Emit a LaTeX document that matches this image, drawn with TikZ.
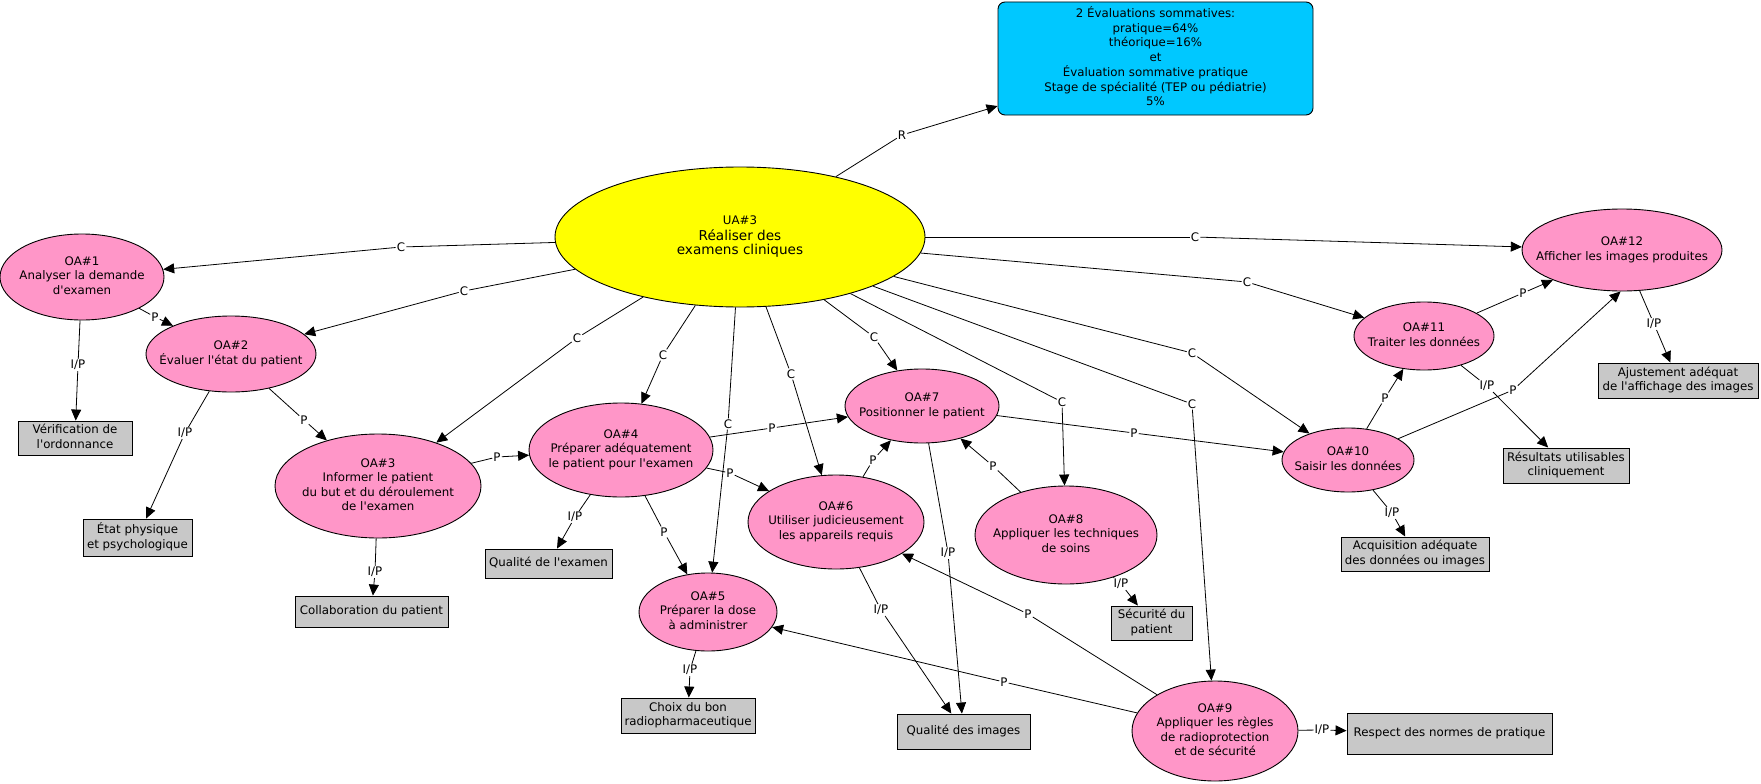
\documentclass[tikz,border=0pt]{standalone}
\usepackage{fontspec}
\setmainfont{DejaVu Sans}
\usetikzlibrary{shapes.geometric,arrows.meta}
\definecolor{oapink}{RGB}{255,150,200}
\definecolor{evalblue}{RGB}{0,200,255}
\definecolor{boxgray}{RGB}{200,200,200}
\definecolor{uayellow}{RGB}{255,255,0}
\newcommand\ctext[1]{\makebox[0pt]{\begin{tabular}{@{}c@{}}#1\end{tabular}}}
\newcommand\ap{\textquotesingle}
\begin{document}
\begin{tikzpicture}[x=1pt,y=-1pt,
  base/.style={font=\fontsize{11.8}{14.6}\selectfont, text=black},
  oa/.style={base, ellipse, draw=black, line width=0.9pt, fill=oapink, inner sep=0pt},
  res/.style={base, rectangle, draw=black, line width=0.9pt, fill=boxgray, inner sep=0pt},
  evalbox/.style={base, rectangle, rounded corners=7pt, draw=black, line width=0.9pt, fill=evalblue, inner sep=0pt},
  lbl/.style={base, fill=white, inner sep=1pt},
  conn/.style={line width=0.8pt, draw=black},
  arr/.style={conn, -{Triangle[length=11pt,width=10pt]}},
]
\fill[white] (0,0) rectangle (1761,784);
\useasboundingbox (0,0) rectangle (1761,784);

% central concept
\node[base, ellipse, draw=black, line width=0.9pt, fill=uayellow, inner sep=0pt,
      minimum width=370pt, minimum height=140pt] (ua) at (740,237)
  {\ctext{UA\#3\\{\fontsize{13.6}{17}\selectfont Réaliser des}\\{\fontsize{13.6}{17}\selectfont examens cliniques}}};

% evaluation box
\node[evalbox, minimum width=315pt, minimum height=113pt] (eval) at (1155.5,58.5)
  {\ctext{2 Évaluations sommatives:\\pratique=64\%\\théorique=16\%\\et\\Évaluation sommative pratique\\Stage de spécialité (TEP ou pédiatrie)\\5\%}};

% OA concepts
\node[oa, minimum width=164pt, minimum height=86pt] (oa1) at (82,277) {\ctext{OA\#1\\Analyser la demande\\d\ap examen}};
\node[oa, minimum width=170pt, minimum height=76pt] (oa2) at (231,354) {\ctext{OA\#2\\Évaluer l\ap état du patient}};
\node[oa, minimum width=206pt, minimum height=104pt] (oa3) at (378,486) {\ctext{OA\#3\\Informer le patient\\du but et du déroulement\\de l\ap examen}};
\node[oa, minimum width=184pt, minimum height=94pt] (oa4) at (621,450) {\ctext{OA\#4\\Préparer adéquatement\\le patient pour l\ap examen}};
\node[oa, minimum width=138pt, minimum height=78pt] (oa5) at (708,612) {\ctext{OA\#5\\Préparer la dose\\à administrer}};
\node[oa, minimum width=176pt, minimum height=94pt] (oa6) at (836,522) {\ctext{OA\#6\\Utiliser judicieusement\\les appareils requis}};
\node[oa, minimum width=154pt, minimum height=74pt] (oa7) at (922,406) {\ctext{OA\#7\\Positionner le patient}};
\node[oa, minimum width=182pt, minimum height=98pt] (oa8) at (1066,535) {\ctext{OA\#8\\Appliquer les techniques\\de soins}};
\node[oa, minimum width=166pt, minimum height=100pt] (oa9) at (1215,731) {\ctext{OA\#9\\Appliquer les règles\\de radioprotection\\et de sécurité}};
\node[oa, minimum width=132pt, minimum height=64pt] (oa10) at (1348,460) {\ctext{OA\#10\\Saisir les données}};
\node[oa, minimum width=140pt, minimum height=68pt] (oa11) at (1424,336) {\ctext{OA\#11\\Traiter les données}};
\node[oa, minimum width=200pt, minimum height=82pt] (oa12) at (1622,250) {\ctext{OA\#12\\Afficher les images produites}};

% result boxes
\node[res, minimum width=114pt, minimum height=34pt] (verif) at (75,438) {\ctext{Vérification de\\l\ap ordonnance}};
\node[res, minimum width=109pt, minimum height=37pt] (etat) at (137.5,537.5) {\ctext{État physique\\et psychologique}};
\node[res, minimum width=153pt, minimum height=31pt] (collab) at (371.5,611.5) {\ctext{Collaboration du patient}};
\node[res, minimum width=127pt, minimum height=29pt] (qexam) at (548.5,563.5) {\ctext{Qualité de l\ap examen}};
\node[res, minimum width=134pt, minimum height=35pt] (choix) at (688,715.5) {\ctext{Choix du bon\\radiopharmaceutique}};
\node[res, minimum width=133pt, minimum height=35pt] (qimg) at (963.5,731.5) {\ctext{Qualité des images}};
\node[res, minimum width=81pt, minimum height=34pt] (secur) at (1151.5,623) {\ctext{Sécurité du\\patient}};
\node[res, minimum width=205pt, minimum height=41pt] (respect) at (1449.5,733.5) {\ctext{Respect des normes de pratique}};
\node[res, minimum width=148pt, minimum height=34pt] (acq) at (1415,554) {\ctext{Acquisition adéquate\\des données ou images}};
\node[res, minimum width=126pt, minimum height=35pt] (result) at (1566,465.5) {\ctext{Résultats utilisables\\cliniquement}};
\node[res, minimum width=160pt, minimum height=35pt] (ajust) at (1678,380.5) {\ctext{Ajustement adéquat\\de l\ap affichage des images}};

% link labels from the central concept
\node[lbl] (lR) at (902,135) {R};
\node[lbl] (lc1) at (401,247) {C};
\node[lbl] (lc2) at (464,291) {C};
\node[lbl] (lc3) at (577,338) {C};
\node[lbl] (lc4) at (663,355) {C};
\node[lbl] (lc5) at (728,424) {C};
\node[lbl] (lc6) at (791,374) {C};
\node[lbl] (lc7) at (874,337) {C};
\node[lbl] (lc8) at (1062,402) {C};
\node[lbl] (lc9) at (1192,404) {C};
\node[lbl] (lc10) at (1192,353) {C};
\node[lbl] (lc11) at (1247,282) {C};
\node[lbl] (lc12) at (1195,237) {C};

\draw[conn] (ua) -- (lR);  \draw[arr] (lR) -- (eval);
\draw[conn] (ua) -- (lc1); \draw[arr] (lc1) -- (oa1);
\draw[conn] (ua) -- (lc2); \draw[arr] (lc2) -- (oa2);
\draw[conn] (ua) -- (lc3); \draw[arr] (lc3) -- (oa3);
\draw[conn] (ua) -- (lc4); \draw[arr] (lc4) -- (oa4);
\draw[conn] (ua) -- (lc5); \draw[arr] (lc5) -- (oa5);
\draw[conn] (ua) -- (lc6); \draw[arr] (lc6) -- (oa6);
\draw[conn] (ua) -- (lc7); \draw[arr] (lc7) -- (oa7);
\draw[conn] (ua) -- (lc8); \draw[arr] (lc8) -- (oa8);
\draw[conn] (ua) -- (lc9); \draw[arr] (lc9) -- (oa9);
\draw[conn] (ua) -- (lc10); \draw[arr] (lc10) -- (oa10);
\draw[conn] (ua) -- (lc11); \draw[arr] (lc11) -- (oa11);
\draw[conn] (ua) -- (lc12); \draw[arr] (lc12) -- (oa12);

% link labels between OA and results
\node[lbl] (p12) at (155,317) {P};
\node[lbl] (ip1) at (78,365) {I/P};
\node[lbl] (p23) at (304,420) {P};
\node[lbl] (ip2) at (185,433) {I/P};
\node[lbl] (p34) at (497,457) {P};
\node[lbl] (ip3) at (375,572) {I/P};
\node[lbl] (p47) at (772,428) {P};
\node[lbl] (p46) at (730,473) {P};
\node[lbl] (p45) at (664,532) {P};
\node[lbl] (ip4) at (575,517) {I/P};
\node[lbl] (ip5) at (690,670) {I/P};
\node[lbl] (p67) at (873,460) {P};
\node[lbl] (ip6) at (881,610) {I/P};
\node[lbl] (ip7) at (948,553) {I/P};
\node[lbl] (p710) at (1134,433) {P};
\node[lbl] (p87) at (993,466) {P};
\node[lbl] (ip8) at (1121,584) {I/P};
\node[lbl] (p96) at (1028,614) {P};
\node[lbl] (p95) at (1004,682) {P};
\node[lbl] (ip9) at (1322,730) {I/P};
\node[lbl] (ip10) at (1392,513) {I/P};
\node[lbl] (p1011) at (1385,398) {P};
\node[lbl] (p1012) at (1513,390) {P};
\node[lbl] (p1112) at (1523,293) {P};
\node[lbl] (ip11) at (1487,386) {I/P};
\node[lbl] (ip12) at (1654,324) {I/P};

\draw[conn] (oa1) -- (p12); \draw[arr] (p12) -- (oa2);
\draw[conn] (oa1) -- (ip1); \draw[arr] (ip1) -- (verif);
\draw[conn] (oa2) -- (p23); \draw[arr] (p23) -- (oa3);
\draw[conn] (oa2) -- (ip2); \draw[arr] (ip2) -- (etat);
\draw[conn] (oa3) -- (p34); \draw[arr] (p34) -- (oa4);
\draw[conn] (oa3) -- (ip3); \draw[arr] (ip3) -- (collab);
\draw[conn] (oa4) -- (p47); \draw[arr] (p47) -- (oa7);
\draw[conn] (oa4) -- (p46); \draw[arr] (p46) -- (oa6);
\draw[conn] (oa4) -- (p45); \draw[arr] (p45) -- (oa5);
\draw[conn] (oa4) -- (ip4); \draw[arr] (ip4) -- (qexam);
\draw[conn] (oa5) -- (ip5); \draw[arr] (ip5) -- (choix);
\draw[conn] (oa6) -- (p67); \draw[arr] (p67) -- (oa7);
\draw[conn] (oa6) -- (ip6); \draw[arr] (ip6) -- (qimg);
\draw[conn] (oa7) -- (ip7); \draw[arr] (ip7) -- (qimg);
\draw[conn] (oa7) -- (p710); \draw[arr] (p710) -- (oa10);
\draw[conn] (oa8) -- (p87); \draw[arr] (p87) -- (oa7);
\draw[conn] (oa8) -- (ip8); \draw[arr] (ip8) -- (secur);
\draw[conn] (oa9) -- (p96); \draw[arr] (p96) -- (oa6);
\draw[conn] (oa9) -- (p95); \draw[arr] (p95) -- (oa5);
\draw[conn] (oa9) -- (ip9); \draw[arr] (ip9) -- (respect);
\draw[conn] (oa10) -- (ip10); \draw[arr] (ip10) -- (acq);
\draw[conn] (oa10) -- (p1011); \draw[arr] (p1011) -- (oa11);
\draw[conn] (oa10) -- (p1012); \draw[arr] (p1012) -- (oa12.-92);
\draw[conn] (oa11) -- (p1112); \draw[arr] (p1112) -- (oa12);
\draw[conn] (oa11) -- (ip11); \draw[arr] (ip11) -- (result);
\draw[conn] (oa12) -- (ip12); \draw[arr] (ip12) -- (ajust);
\end{tikzpicture}
\end{document}
